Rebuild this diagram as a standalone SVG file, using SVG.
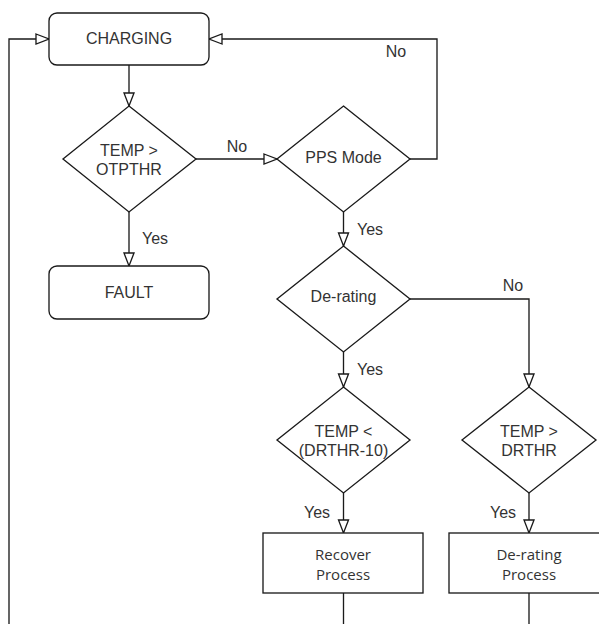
<svg xmlns="http://www.w3.org/2000/svg" width="599" height="624" viewBox="0 0 599 624">
<style>
.shape{fill:#fff;stroke:#1a1a1a;stroke-width:1.33}
.edge{fill:none;stroke:#1a1a1a;stroke-width:1.33}
text{font-family:"Liberation Sans",Arial,sans-serif;font-size:16px;fill:#333;text-anchor:middle}
.lbl{font-size:16px}
.proc{font-family:"Open Sans","Liberation Sans",sans-serif;font-size:15px}
</style>
<defs>
<marker id="arr" markerUnits="userSpaceOnUse" markerWidth="16" markerHeight="14" viewBox="-1 -1 16 13" refX="13" refY="5" orient="auto">
<path d="M0,0 L13,5 L0,10 Z" fill="#fff" stroke="#1a1a1a" stroke-width="1.33"/>
</marker>
</defs>
<rect width="599" height="624" fill="#fff"/>
<g id="connectors">
<path class="edge" d="M129,65 V106" marker-end="url(#arr)"/>
<path class="edge" d="M196,159 H277" marker-end="url(#arr)"/>
<path class="edge" d="M129,212 V266" marker-end="url(#arr)"/>
<path class="edge" d="M410,159 H437 V39 H209" marker-end="url(#arr)"/>
<path class="edge" d="M343.5,212 V246" marker-end="url(#arr)"/>
<path class="edge" d="M410,299 H529 V387" marker-end="url(#arr)"/>
<path class="edge" d="M343.5,352 V387" marker-end="url(#arr)"/>
<path class="edge" d="M343.5,493 V533" marker-end="url(#arr)"/>
<path class="edge" d="M529,493 V533" marker-end="url(#arr)"/>
<path class="edge" d="M343.5,593 V630"/>
<path class="edge" d="M529,593 V630"/>
<path class="edge" d="M9,630 V39 H49" marker-end="url(#arr)"/>
<text class="lbl" x="237" y="152">No</text>
<text class="lbl" x="396" y="57">No</text>
<text class="lbl" x="155" y="244">Yes</text>
<text class="lbl" x="370" y="235">Yes</text>
<text class="lbl" x="513" y="291">No</text>
<text class="lbl" x="370" y="375">Yes</text>
<text class="lbl" x="317" y="518">Yes</text>
<text class="lbl" x="503" y="518">Yes</text>
</g>
<g id="charging">
<rect class="shape" x="49" y="13" width="160" height="52" rx="8"/>
<text x="129" y="44">CHARGING</text>
</g>
<g id="temp-otpthr">
<path class="shape" d="M129,106 L196,159 L129,212 L63,159 Z"/>
<text x="129" y="156">TEMP &gt;</text>
<text x="129" y="175">OTPTHR</text>
</g>
<g id="fault">
<rect class="shape" x="49" y="266" width="160" height="53" rx="8"/>
<text x="129" y="298">FAULT</text>
</g>
<g id="pps-mode">
<path class="shape" d="M343.5,106 L410,159 L343.5,212 L277,159 Z"/>
<text x="343.5" y="163">PPS Mode</text>
</g>
<g id="de-rating">
<path class="shape" d="M343.5,246 L410,299 L343.5,352 L277,299 Z"/>
<text x="343.5" y="302">De-rating</text>
</g>
<g id="temp-drthr10">
<path class="shape" d="M343.5,387 L410,440 L343.5,493 L277,440 Z"/>
<text x="343.5" y="437">TEMP &lt;</text>
<text x="343.5" y="456">(DRTHR-10)</text>
</g>
<g id="temp-drthr">
<path class="shape" d="M529,387 L596,440 L529,493 L462,440 Z"/>
<text x="529" y="437">TEMP &gt;</text>
<text x="529" y="456">DRTHR</text>
</g>
<g id="recover-process">
<rect class="shape" x="263" y="533" width="160" height="60"/>
<text class="proc" x="343" y="560">Recover</text>
<text class="proc" x="343" y="580">Process</text>
</g>
<g id="derating-process">
<rect class="shape" x="449" y="533" width="160" height="60"/>
<text class="proc" x="529" y="560">De-rating</text>
<text class="proc" x="529" y="580">Process</text>
</g>
</svg>
